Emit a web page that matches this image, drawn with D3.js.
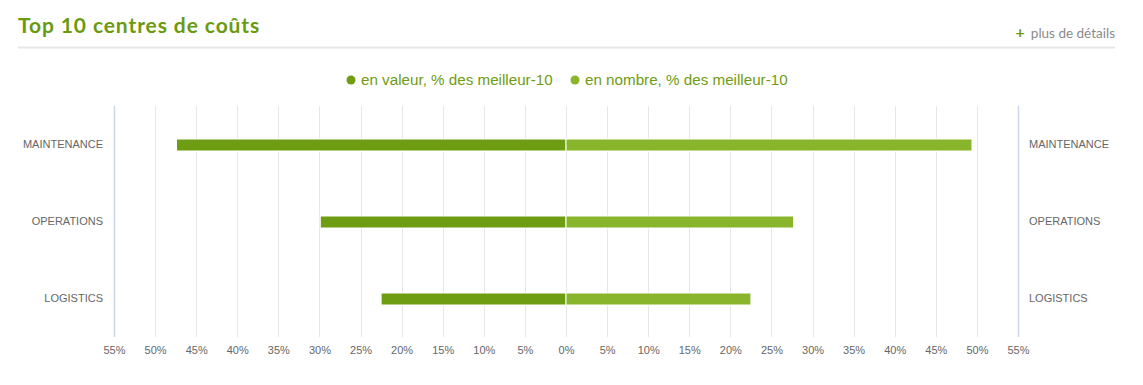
<!DOCTYPE html>
<html>
<head>
<meta charset="utf-8">
<script src="https://cdn.jsdelivr.net/npm/d3@7"></script>
<style>
  body { margin: 0; background: #fff; }
  svg text { font-family: "Liberation Sans", Arial, sans-serif; }
</style>
</head>
<body>
<div class="chart"></div>
<script>
var svgWidth = 1143;
var svgHeight = 385;

// data
var categories = ["MAINTENANCE", "OPERATIONS", "LOGISTICS"];
var valueShare = [47.4, 29.9, 22.5];   // en valeur (left side)
var countShare = [49.4, 27.7, 22.5];   // en nombre (right side)
var tickValues = [0, 5, 10, 15, 20, 25, 30, 35, 40, 45, 50, 55];
var seriesNames = ["en valeur, % des meilleur-10", "en nombre, % des meilleur-10"];
var seriesColors = ["#6e9c12", "#88b52b"];

var margin = { top: 106, left: 114, right: 125, bottom: 48 };
var plotW = svgWidth - margin.left - margin.right;
var plotH = svgHeight - margin.top - margin.bottom;

var svg = d3.select(".chart")
  .append("svg")
  .attr("width", svgWidth)
  .attr("height", svgHeight);

// header
svg.append("text")
  .attr("x", 18)
  .attr("y", 33)
  .attr("fill", "#6b9a10")
  .attr("font-size", "21px")
  .attr("font-weight", "bold")
  .style("font-family", "Lato, 'Open Sans', sans-serif")
  .style("letter-spacing", "0.9px")
  .text("Top 10 centres de coûts");

svg.append("line")
  .attr("x1", 18).attr("x2", 1115)
  .attr("y1", 47.5).attr("y2", 47.5)
  .attr("stroke", "#e6e6e6")
  .attr("stroke-width", 2);

var more = svg.append("text")
  .attr("x", 1115)
  .attr("y", 38)
  .attr("text-anchor", "end")
  .attr("font-size", "13.5px")
  .style("font-family", "Lato, 'Open Sans', sans-serif");
more.append("tspan").attr("fill", "#6b9a10").attr("font-weight", "bold").attr("font-size", "16px").text("+");
more.append("tspan").attr("fill", "#8a8a8a").attr("dx", 6).text("plus de détails");

// legend
var legendX = [351, 575];
seriesNames.forEach(function (name, i) {
  svg.append("circle")
    .attr("cx", legendX[i]).attr("cy", 80).attr("r", 4.5)
    .attr("fill", seriesColors[i]);
  svg.append("text")
    .attr("x", legendX[i] + 10).attr("y", 85)
    .attr("fill", seriesColors[0])
    .attr("font-size", "15.2px")
    .text(name);
});

var chartGroup = svg.append("g")
  .attr("transform", `translate(${margin.left}, ${margin.top})`);

// x scale: 55 .. 0 .. 55
var xScale = d3.scaleLinear()
  .domain([-55, 55])
  .range([0, plotW]);

var yScale = d3.scaleBand()
  .domain(categories)
  .range([0, plotH]);

var allTicks = tickValues.slice(1).reverse().map(d => -d).concat(tickValues);

// gridlines
chartGroup.selectAll(".grid")
  .data(allTicks)
  .enter()
  .append("line")
  .attr("x1", d => Math.round(xScale(d)) + 0.5)
  .attr("x2", d => Math.round(xScale(d)) + 0.5)
  .attr("y1", 0)
  .attr("y2", plotH)
  .attr("stroke", d => Math.abs(d) === 55 ? "#ccd6eb" : "#e6e6e6")
  .attr("stroke-width", d => Math.abs(d) === 55 ? 1.5 : 1);

// x axis labels
var bottomAxis = d3.axisBottom(xScale)
  .tickValues(allTicks)
  .tickSize(0)
  .tickPadding(9)
  .tickFormat(d => Math.abs(d) + "%");

chartGroup.append("g")
  .attr("transform", `translate(0, ${plotH})`)
  .call(bottomAxis)
  .call(g => g.select(".domain").remove())
  .call(g => g.selectAll("text")
    .attr("fill", "#666")
    .attr("font-size", "11px")
    .style("font-family", "'Liberation Sans', Arial, sans-serif"));

// category axes (both sides)
var leftAxis = d3.axisLeft(yScale).tickSize(0).tickPadding(11);
var rightAxis = d3.axisRight(yScale).tickSize(0).tickPadding(11);

chartGroup.append("g")
  .call(leftAxis)
  .call(g => g.select(".domain").remove())
  .call(g => g.selectAll("text")
    .attr("fill", "#666")
    .attr("font-size", "11px")
    .attr("dy", "0.28em")
    .style("font-family", "'Liberation Sans', Arial, sans-serif"));

chartGroup.append("g")
  .attr("transform", `translate(${plotW}, 0)`)
  .call(rightAxis)
  .call(g => g.select(".domain").remove())
  .call(g => g.selectAll("text")
    .attr("fill", "#666")
    .attr("font-size", "11px")
    .attr("dy", "0.28em")
    .style("font-family", "'Liberation Sans', Arial, sans-serif"));

// bars
var barH = 12;
var rows = categories.map((c, i) => ({ cat: c, left: valueShare[i], right: countShare[i] }));

chartGroup.selectAll(".bar-left")
  .data(rows)
  .enter()
  .append("rect")
  .attr("x", d => xScale(-d.left))
  .attr("y", d => yScale(d.cat) + yScale.bandwidth() / 2 - barH / 2 + 0.5)
  .attr("width", d => xScale(0) - xScale(-d.left))
  .attr("height", barH)
  .attr("fill", seriesColors[0])
  .attr("stroke", "#fff")
  .attr("stroke-width", 1);

chartGroup.selectAll(".bar-right")
  .data(rows)
  .enter()
  .append("rect")
  .attr("x", xScale(0))
  .attr("y", d => yScale(d.cat) + yScale.bandwidth() / 2 - barH / 2 + 0.5)
  .attr("width", d => xScale(d.right) - xScale(0))
  .attr("height", barH)
  .attr("fill", seriesColors[1])
  .attr("stroke", "#fff")
  .attr("stroke-width", 1);
</script>
</body>
</html>
